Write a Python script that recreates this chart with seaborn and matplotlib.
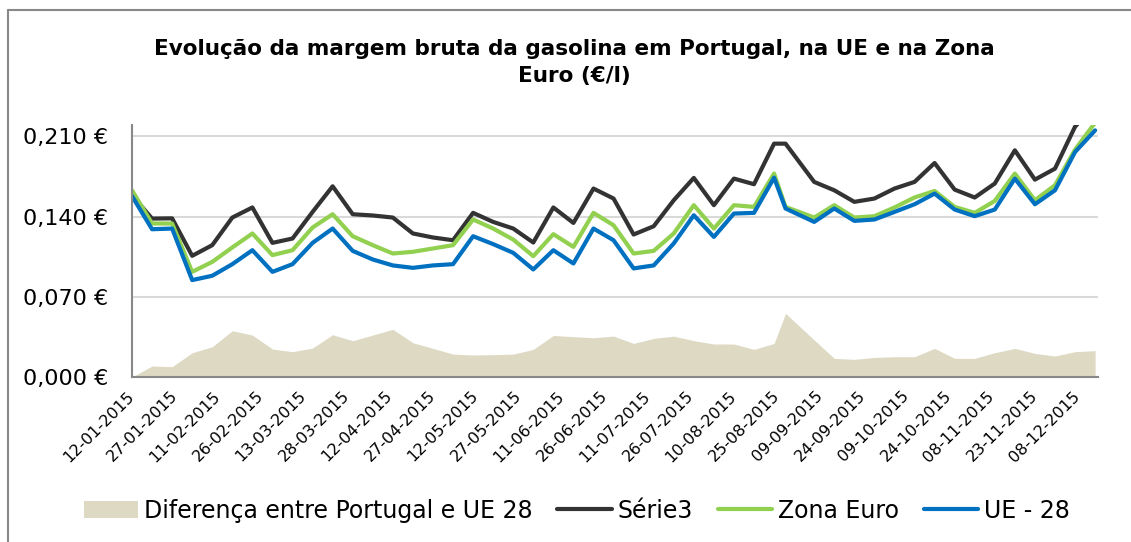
import pandas as pd
import numpy as np
import seaborn as sns
import matplotlib.pyplot as plt
import matplotlib.dates as mdates
from matplotlib.lines import Line2D
from matplotlib.ticker import FuncFormatter

# Datas das observações (semanais, com um ponto a 28-08)
datas = ['2015-01-12', '2015-01-19', '2015-01-26', '2015-02-02', '2015-02-09', '2015-02-16',
         '2015-02-23', '2015-03-02', '2015-03-09', '2015-03-16', '2015-03-23', '2015-03-30',
         '2015-04-06', '2015-04-13', '2015-04-20', '2015-04-27', '2015-05-04', '2015-05-11',
         '2015-05-18', '2015-05-25', '2015-06-01', '2015-06-08', '2015-06-15', '2015-06-22',
         '2015-06-29', '2015-07-06', '2015-07-13', '2015-07-20', '2015-07-27', '2015-08-03',
         '2015-08-10', '2015-08-17', '2015-08-24', '2015-08-28', '2015-09-07', '2015-09-14',
         '2015-09-21', '2015-09-28', '2015-10-05', '2015-10-12', '2015-10-19', '2015-10-26',
         '2015-11-02', '2015-11-09', '2015-11-16', '2015-11-23', '2015-11-30', '2015-12-07',
         '2015-12-14']

serie3 = [0.1587, 0.1383, 0.1385, 0.1058, 0.1151, 0.1392, 0.1480, 0.1171, 0.1209, 0.1441,
          0.1665, 0.1421, 0.1410, 0.1392, 0.1253, 0.1218, 0.1194, 0.1433, 0.1354, 0.1296,
          0.1174, 0.1480, 0.1345, 0.1645, 0.1558, 0.1244, 0.1316, 0.1543, 0.1738, 0.1500,
          0.1732, 0.1683, 0.2037, 0.2037, 0.1703, 0.1630, 0.1529, 0.1558, 0.1645, 0.1703,
          0.1868, 0.1636, 0.1567, 0.1689, 0.1979, 0.1723, 0.1819, 0.2185, 0.2380]

zona_euro = [0.1630, 0.1340, 0.1340, 0.0918, 0.1005, 0.1131, 0.1253, 0.1064, 0.1107, 0.1305,
             0.1421, 0.1229, 0.1151, 0.1078, 0.1093, 0.1122, 0.1151, 0.1375, 0.1296, 0.1200,
             0.1055, 0.1247, 0.1136, 0.1433, 0.1325, 0.1078, 0.1101, 0.1253, 0.1500, 0.1296,
             0.1500, 0.1485, 0.1776, 0.1485, 0.1392, 0.1500, 0.1392, 0.1404, 0.1480, 0.1567,
             0.1624, 0.1485, 0.1433, 0.1537, 0.1776, 0.1543, 0.1674, 0.1985, 0.2220]

ue28 = [0.1580, 0.1290, 0.1296, 0.0846, 0.0884, 0.0985, 0.1107, 0.0918, 0.0985, 0.1171,
        0.1296, 0.1101, 0.1026, 0.0974, 0.0953, 0.0974, 0.0985, 0.1229, 0.1160, 0.1084,
        0.0939, 0.1107, 0.0991, 0.1296, 0.1194, 0.0948, 0.0974, 0.1166, 0.1412, 0.1223,
        0.1427, 0.1433, 0.1740, 0.1471, 0.1354, 0.1471, 0.1363, 0.1375, 0.1441, 0.1508,
        0.1601, 0.1462, 0.1404, 0.1462, 0.1732, 0.1508, 0.1630, 0.1964, 0.2153]

diferenca = [0.0000, 0.0096, 0.0090, 0.0212, 0.0264, 0.0404, 0.0366, 0.0244, 0.0221, 0.0253,
             0.0369, 0.0317, 0.0366, 0.0416, 0.0299, 0.0250, 0.0200, 0.0192, 0.0195, 0.0200,
             0.0241, 0.0363, 0.0352, 0.0343, 0.0357, 0.0293, 0.0337, 0.0357, 0.0317, 0.0288,
             0.0288, 0.0241, 0.0293, 0.0555, 0.0323, 0.0163, 0.0154, 0.0171, 0.0177, 0.0177,
             0.0250, 0.0163, 0.0163, 0.0212, 0.0250, 0.0206, 0.0183, 0.0221, 0.0230]

ticks_x = ['2015-01-12', '2015-01-27', '2015-02-11', '2015-02-26', '2015-03-13', '2015-03-28',
           '2015-04-12', '2015-04-27', '2015-05-12', '2015-05-27', '2015-06-11', '2015-06-26',
           '2015-07-11', '2015-07-26', '2015-08-10', '2015-08-25', '2015-09-09', '2015-09-24',
           '2015-10-09', '2015-10-24', '2015-11-08', '2015-11-23', '2015-12-08']
ticks_y = [0.0, 0.07, 0.14, 0.21]

df = pd.DataFrame({'Data': pd.to_datetime(datas), 'Série3': serie3,
                   'Zona Euro': zona_euro, 'UE - 28': ue28, 'Diferenca': diferenca})
df_long = df.melt(id_vars='Data', value_vars=['Série3', 'Zona Euro', 'UE - 28'],
                  var_name='Serie', value_name='Valor')

sns.set_style('white')
plt.rcParams['font.family'] = ['DejaVu Sans']
plt.rcParams['text.color'] = 'black'
plt.rcParams['xtick.labelcolor'] = 'black'
plt.rcParams['ytick.labelcolor'] = 'black'

cores = {'Série3': '#333333', 'Zona Euro': '#92D050', 'UE - 28': '#0070C0'}

fig = plt.figure(figsize=(11.31, 5.42), dpi=100)
ax = fig.add_axes([0.1167, 0.3044, 0.9708 - 0.1167, 0.7694 - 0.3044])

ax.fill_between(df['Data'], df['Diferenca'], color='#DDD9C3', lw=0,
                label='Diferença entre Portugal e UE 28')
sns.lineplot(data=df_long, x='Data', y='Valor', hue='Serie', palette=cores,
             hue_order=['Série3', 'Zona Euro', 'UE - 28'], linewidth=3,
             solid_joinstyle='round', ax=ax)

ax.set_xlim(pd.Timestamp('2015-01-12'), pd.Timestamp('2015-12-15'))
ax.set_ylim(0, 0.22)
ax.set_yticks(ticks_y)
ax.yaxis.set_major_formatter(FuncFormatter(lambda v, p: f'{v:.3f} €'.replace('.', ',')))
ax.set_xticks(pd.to_datetime(ticks_x))
ax.xaxis.set_major_formatter(mdates.DateFormatter('%d-%m-%Y'))
plt.setp(ax.get_xticklabels(), rotation=45, ha='right', va='center', rotation_mode='anchor')
ax.tick_params(axis='x', direction='out', length=5, width=1.2, color='#888888',
               labelsize=11.5, pad=7)
ax.tick_params(axis='y', direction='inout', length=10, width=1.2, color='#888888',
               labelsize=16, pad=12)
ax.set_xlabel('')
ax.set_ylabel('')

ax.grid(axis='y', color='#D9D9D9', lw=1.5)
ax.set_axisbelow(True)
for s in ['top', 'right']:
    ax.spines[s].set_visible(False)
for s in ['left', 'bottom']:
    ax.spines[s].set_color('#888888')
    ax.spines[s].set_linewidth(1.5)

fig.text(0.508, 0.885, 'Evolução da margem bruta da gasolina em Portugal, na UE e na Zona\nEuro (€/l)',
         ha='center', va='center', fontsize=15.5, fontweight='bold', linespacing=1.45)

handles, labels = ax.get_legend_handles_labels()
ax.legend(handles, labels, loc='center', bbox_to_anchor=(0.51, 0.058),
          bbox_transform=fig.transFigure, ncol=4, frameon=False, fontsize=17,
          handlelength=2.3, handletextpad=0.25, columnspacing=1.05)

# moldura da área do gráfico (só esquerda e topo visíveis)
fig.add_artist(Line2D([8 / 1131, 8 / 1131], [0, 1 - 10 / 542], color='#888888', lw=1.5))
fig.add_artist(Line2D([8 / 1131, 1], [1 - 10 / 542, 1 - 10 / 542], color='#888888', lw=1.5))

fig.savefig('out.png', dpi=100)
